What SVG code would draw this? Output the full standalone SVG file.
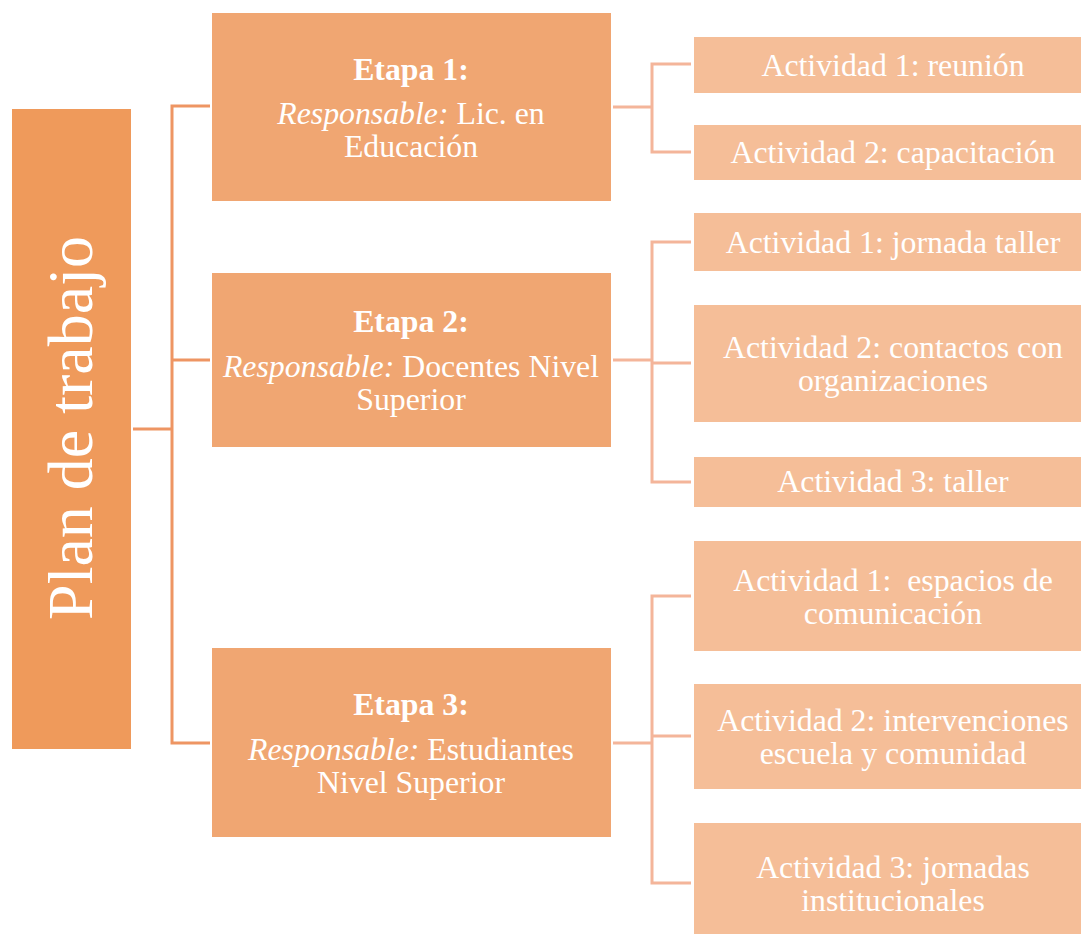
<svg xmlns="http://www.w3.org/2000/svg" width="1081" height="935" viewBox="0 0 1081 935">
<style>
text{font-family:"Liberation Serif","Times New Roman",serif;fill:#fff;text-anchor:middle}
.e{fill:#F0A672}
.a{fill:#F5BE98}
.t{font-size:31.8px}
.b{font-weight:bold}
.l1{fill:none;stroke:#EE9563;stroke-width:3}
.l2{fill:none;stroke:#F4B59A;stroke-width:3}
</style>
<rect width="1081" height="935" fill="#fff"/>
<g id="connectors">
<path class="l1" d="M133 429H172M210 106H172V743H210M172 360H210"/>
<path class="l2" d="M613 107H652M691 64H652V152H691"/>
<path class="l2" d="M613 360H652M691 242H652V482H691M652 363H691"/>
<path class="l2" d="M613 743H652M691 596H652V883H691M652 736H691"/>
</g>
<g id="plan">
<rect x="12" y="109" width="119" height="640" fill="#EF9A5B"/>
<text transform="translate(92 428) rotate(-90)" font-size="64">Plan de trabajo</text>
</g>
<g id="etapa1">
<rect class="e" x="212" y="13" width="399" height="188"/>
<text class="t b" x="411" y="80">Etapa 1:</text>
<text class="t" x="411" y="124"><tspan font-style="italic">Responsable:</tspan> Lic. en</text>
<text class="t" x="411" y="157">Educación</text>
</g>
<g id="etapa2">
<rect class="e" x="212" y="273" width="399" height="174"/>
<text class="t b" x="411" y="332">Etapa 2:</text>
<text class="t" x="411" y="377"><tspan font-style="italic">Responsable:</tspan> Docentes Nivel</text>
<text class="t" x="411" y="410">Superior</text>
</g>
<g id="etapa3">
<rect class="e" x="212" y="648" width="399" height="189"/>
<text class="t b" x="411" y="715">Etapa 3:</text>
<text class="t" x="411" y="760"><tspan font-style="italic">Responsable:</tspan> Estudiantes</text>
<text class="t" x="411" y="793">Nivel Superior</text>
</g>
<g id="act1-1"><rect class="a" x="694" y="37" width="387" height="56"/><text class="t" x="893" y="76">Actividad 1: reunión</text></g>
<g id="act1-2"><rect class="a" x="694" y="125" width="387" height="55"/><text class="t" x="893" y="163">Actividad 2: capacitación</text></g>
<g id="act2-1"><rect class="a" x="694" y="213" width="387" height="58"/><text class="t" x="893" y="253">Actividad 1: jornada taller</text></g>
<g id="act2-2"><rect class="a" x="694" y="305" width="387" height="117"/><text class="t" x="893" y="358">Actividad 2: contactos con</text><text class="t" x="893" y="391">organizaciones</text></g>
<g id="act2-3"><rect class="a" x="694" y="457" width="387" height="50"/><text class="t" x="893" y="492">Actividad 3: taller</text></g>
<g id="act3-1"><rect class="a" x="694" y="541" width="387" height="110"/><text class="t" x="893" y="591" xml:space="preserve">Actividad 1:  espacios de</text><text class="t" x="893" y="624">comunicación</text></g>
<g id="act3-2"><rect class="a" x="694" y="684" width="387" height="105"/><text class="t" x="893" y="731">Actividad 2: intervenciones</text><text class="t" x="893" y="764">escuela y comunidad</text></g>
<g id="act3-3"><rect class="a" x="694" y="823" width="387" height="111"/><text class="t" x="893" y="878">Actividad 3: jornadas</text><text class="t" x="893" y="911">institucionales</text></g>
</svg>
